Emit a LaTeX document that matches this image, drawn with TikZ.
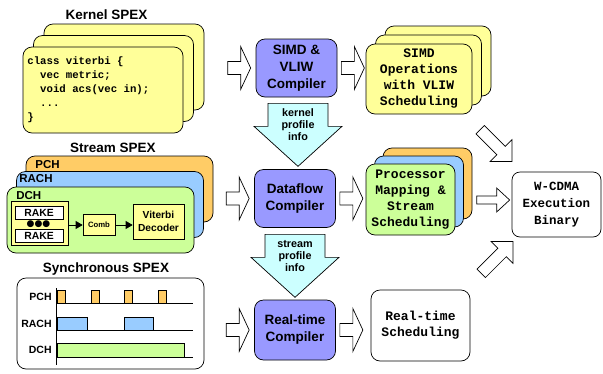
\documentclass[tikz,border=0pt]{standalone}
\usepackage{fontspec}
\setmainfont{Liberation Sans}
\setsansfont{Liberation Sans}
\setmonofont{Liberation Mono}
\newfontfamily\dotfont{DejaVu Sans}
\definecolor{spexyellow}{RGB}{255,255,153}
\definecolor{pchorange}{RGB}{255,204,102}
\definecolor{rachblue}{RGB}{153,204,255}
\definecolor{dchgreen}{RGB}{204,255,153}
\definecolor{compviolet}{RGB}{153,153,255}
\definecolor{profcyan}{RGB}{204,255,255}
\usetikzlibrary{calc,arrows.meta}

\tikzset{
  % hollow block arrow: length, shaft half width, head half width, head length
  pics/fatarrow/.style n args={4}{code={
    \draw[fill=white] (-#1/2,-#2) -- ({#1/2-#4},-#2) -- ({#1/2-#4},-#3) -- (#1/2,0)
      -- ({#1/2-#4},#3) -- ({#1/2-#4},#2) -- (-#1/2,#2) -- cycle;}},
  pics/profarrow/.style={code={
    \draw[fill=profcyan] (-30,0) -- (30,0) -- (30,23) -- (44,23) -- (0,63)
      -- (-44,23) -- (-30,23) -- cycle;}}
}

\begin{document}
\begin{tikzpicture}[x=1pt, y=-1pt, line width=0.7pt,
  every node/.style={font=\sffamily\bfseries},
  title/.style={font=\fontsize{13.5}{16}\selectfont\sffamily\bfseries},
  card/.style={draw, rounded corners=9pt, inner sep=0pt},
  code/.style={align=left, inner sep=0pt, font=\fontsize{10.7}{14}\selectfont\ttfamily\bfseries},
  result/.style={draw, rounded corners=9pt, align=center, inner sep=0pt,
    font=\fontsize{13}{16}\selectfont\ttfamily\bfseries},
  compiler/.style={draw, fill=compviolet, rounded corners=9pt, minimum width=81pt,
    minimum height=58pt, align=center, inner sep=0pt,
    font=\fontsize{13.5}{17}\selectfont\sffamily\bfseries},
  chlabel/.style={inner sep=0pt, font=\fontsize{11.5}{13}\selectfont\sffamily\bfseries},
  synlabel/.style={inner sep=0pt, font=\fontsize{10.5}{12}\selectfont\sffamily\bfseries},
  block/.style={draw, inner sep=0pt, align=center},
  flow/.style={-{Triangle[length=7pt,width=8pt]}},
  proftext/.style={align=center, inner sep=0pt, font=\fontsize{10.8}{11.8}\selectfont\sffamily\bfseries},
  pulse/.style={draw, line width=0.6pt}
]
  \useasboundingbox (0,0) rectangle (603,373);

  % kernel spex
  \node[title] (ktitle) at (106.5,15) {Kernel SPEX};
  \coordinate (kpos) at (103,90);
  \foreach \i/\n in {2/kback,1/kmid,0/kfront}
    \node[card, fill=spexyellow, minimum width=160pt, minimum height=86pt]
      (\n) at ($(kpos)+(10.5*\i,-11.5*\i)$) {};
  \node[code, anchor=west] (kcode) at (27,90)
    {class viterbi \{\\\phantom{xx}vec metric;\\\phantom{xx}void acs(vec in);\\\phantom{xx}...\\\}};

  % stream spex
  \node[title] (stitle) at (113,148) {Stream SPEX};
  \coordinate (spos) at (100.5,220);
  \foreach \i/\n/\c in {2/pch/pchorange,1/rach/rachblue,0/dch/dchgreen}
    \node[card, fill=\c, minimum width=187pt, minimum height=66pt]
      (\n) at ($(spos)+(9.5*\i,-15.5*\i)$) {};
  \node[chlabel, anchor=west] (pchname) at (35,165) {PCH};
  \node[chlabel, anchor=west] (rachname) at (19,179) {RACH};
  \node[chlabel, anchor=west] (dchname) at (16,196) {DCH};

  \node[block, fill=spexyellow, minimum width=57pt, minimum height=44pt] (rakes) at (39.5,223) {};
  \node[block, fill=white, minimum width=48pt, minimum height=13pt,
    font=\fontsize{10.4}{12}\selectfont\sffamily\bfseries] (rake1) at (39,212.5) {RAKE};
  \node[block, fill=white, minimum width=48pt, minimum height=13pt,
    font=\fontsize{10.4}{12}\selectfont\sffamily\bfseries] (rake2) at (39,236) {RAKE};
  \node[inner sep=0pt, font=\fontsize{9}{9}\selectfont\dotfont] (rakedots) at (38.5,224.3) {●●●};
  \node[block, fill=spexyellow, minimum width=32pt, minimum height=21pt,
    font=\fontsize{7.7}{9}\selectfont\sffamily\bfseries] (comb) at (99,225) {Comb};
  \node[block, fill=spexyellow, minimum width=51pt, minimum height=35pt,
    font=\fontsize{10.2}{12.5}\selectfont\sffamily\bfseries] (viterbi) at (158.5,221.5) {Viterbi\\Decoder};
  \draw[flow] (rakes.east |- comb.west) -- (comb.west);
  \draw[flow] (comb.east) -- (comb.east -| viterbi.west);

  % synchronous spex
  \node[title] (ytitle) at (106,269) {Synchronous SPEX};
  \node[card, minimum width=187pt, minimum height=91pt] (sync) at (110.5,323.5) {};
  \node[synlabel, anchor=east] (ypch) at (52,297) {PCH};
  \node[synlabel, anchor=east] (yrach) at (52,324) {RACH};
  \node[synlabel, anchor=east] (ydch) at (52,350) {DCH};
  \draw (56,288) -- (56,365);
  \foreach \y in {303,330,357}
    \draw (56,\y) -- (193,\y);
  \foreach \x in {57,91,124,158}
    \draw[pulse, fill=pchorange] (\x,290) rectangle ++(8,13);
  \draw[pulse, fill=rachblue] (57,317) rectangle (87,330);
  \draw[pulse, fill=rachblue] (124,317) rectangle (153,330);
  \draw[pulse, fill=dchgreen] (57,343) rectangle (184,357);

  % compilers
  \node[compiler] (simd) at (296.5,68) {SIMD \&\\VLIW\\Compiler};
  \node[compiler] (dataflow) at (295,198.5) {Dataflow\\Compiler};
  \node[compiler, minimum height=60pt] (realtime) at (295,330) {Real-time\\Compiler};

  \foreach \c in {simd,dataflow,realtime} {
    \pic at ($(\c.west)+(-16.5,0)$) {fatarrow={23}{6.5}{21.5}{10}};
    \pic at ($(\c.east)+(15.5,0)$) {fatarrow={23}{6.5}{21.5}{10}};
  }

  \pic at ($(simd.south)+(1.5,6)$) {profarrow};
  \node[proftext] (kprof) at ($(simd.south)+(1.5,27)$) {kernel\\profile\\info};
  \pic at ($(dataflow.south)+(0,6.5)$) {profarrow};
  \node[proftext] (sprof) at ($(dataflow.south)+(0,28)$) {stream\\profile\\info};

  % compiler outputs
  \coordinate (opos) at (419,79);
  \foreach \i/\n in {2/oback,1/omid,0/ofront}
    \node[card, fill=spexyellow, minimum width=106pt, minimum height=70pt]
      (\n) at ($(opos)+(9.5*\i,-9*\i)$) {};
  \node[result, draw=none] (simdops) at (opos) {SIMD\\Operations\\with VLIW\\Scheduling};

  \coordinate (ppos) at (410.5,199.5);
  \foreach \i/\n/\c in {2/pback/pchorange,1/pmid/rachblue,0/pfront/dchgreen}
    \node[card, fill=\c, minimum width=89pt, minimum height=71pt]
      (\n) at ($(ppos)+(8.5*\i,-8*\i)$) {};
  \node[result, draw=none] (mapping) at (ppos) {Processor\\Mapping \&\\Stream\\Scheduling};

  \node[result, fill=white, minimum width=99pt, minimum height=71pt] (rtsched) at (420.5,325.5)
    {Real-time\\Scheduling};

  % final binary
  \node[result, fill=white, rounded corners=8pt, minimum width=89pt, minimum height=65pt,
    font=\fontsize{12.5}{17}\selectfont\ttfamily\bfseries] (wcdma) at (556.5,204.5)
    {W-CDMA\\Execution\\Binary};
  \pic at ($(wcdma.west)+(-18.5,-4.5)$) {fatarrow={33}{4}{12}{13}};
  \pic[rotate=-45] at ($(wcdma.north west)+(-15.5,-26)$) {fatarrow={45}{6}{15.5}{15.5}};
  \pic[rotate=45] at ($(wcdma.south west)+(-14.5,20)$) {fatarrow={45}{6}{15.5}{15.5}};
\end{tikzpicture}
\end{document}
